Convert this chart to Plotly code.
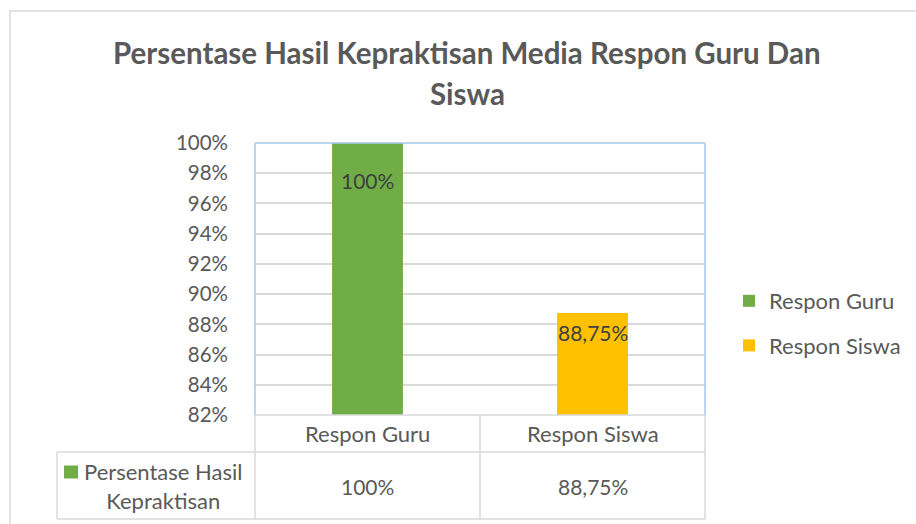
import plotly.graph_objects as go

# ---- data ----
categories = ["Respon Guru", "Respon Siswa"]
values = [1.00, 0.8875]
value_labels = ["100%", "88,75%"]
series_name = "Persentase Hasil<br>Kepraktisan"
colors = ["#70AD47", "#FFC000"]
title_lines = ["Persentase Hasil Kepraktisan Media Respon Guru Dan", "Siswa"]
y_range = [0.82, 1.00]
y_dtick = 0.02

# ---- layout geometry (pixels) ----
W, H = 916, 524
L, R, T, B = 255, 705, 143, 415
ROW1_B = 452
ROW2_B = 519
TABLE_L = 57
FONT = "Lato"
TXT = "#595959"
GRID = "#D9D9D9"
FRAME = "#A6C8EC"


def xp(px):
    return (px - L) / (R - L)


def yp(py):
    return (B - py) / (B - T)


fig = go.Figure()
for cat, val, col in zip(categories, values, colors):
    fig.add_trace(go.Bar(
        x=[cat], y=[val], name=cat, marker=dict(color=col, line=dict(width=0)),
        width=0.315, legendgroup=cat, hoverinfo="skip",
    ))

shapes = []
# outer chart border
shapes.append(dict(type="rect", xref="paper", yref="paper",
                   x0=xp(10), x1=xp(W + 10), y0=yp(11), y1=yp(H + 10),
                   line=dict(color=GRID, width=1.5), layer="below"))
# plot frame (left, top, right)
for (x0, y0, x1, y1) in [(L, B, L, T), (L, T, R, T), (R, T, R, B)]:
    shapes.append(dict(type="line", xref="paper", yref="paper",
                       x0=xp(x0), y0=yp(y0), x1=xp(x1), y1=yp(y1),
                       line=dict(color=FRAME, width=1.5)))
# data table lines
table_lines = [
    (L, B, L, ROW2_B),
    ((L + R) / 2, B, (L + R) / 2, ROW2_B),
    (R, B, R, ROW2_B),
    (TABLE_L, ROW1_B, R, ROW1_B),
    (TABLE_L, ROW2_B, R, ROW2_B),
    (TABLE_L, ROW1_B, TABLE_L, ROW2_B),
    (L, B, R, B),
]
for (x0, y0, x1, y1) in table_lines:
    shapes.append(dict(type="line", xref="paper", yref="paper",
                       x0=xp(x0), y0=yp(y0), x1=xp(x1), y1=yp(y1),
                       line=dict(color=GRID, width=1.5)))
# legend key in table
shapes.append(dict(type="rect", xref="paper", yref="paper",
                   x0=xp(64), x1=xp(78), y0=yp(465.5), y1=yp(478.5),
                   fillcolor=colors[0], line=dict(width=0)))

annotations = []
# title
for line, cy in zip(title_lines, [52, 93]):
    annotations.append(dict(x=xp(467), y=yp(cy), xref="paper", yref="paper",
                            text="<b>" + line + "</b>", showarrow=False,
                            xanchor="center", yanchor="middle",
                            font=dict(family=FONT, size=29.5, color=TXT)))
# data labels
label_offsets = [-37, -19]
for cat, val, lab, off in zip(categories, values, value_labels, label_offsets):
    annotations.append(dict(x=cat, y=val, xref="x", yref="y", text=lab,
                            showarrow=False, yshift=off, yanchor="middle",
                            font=dict(family=FONT, size=21, color="#404040")))
# table header labels
for cat in categories:
    annotations.append(dict(x=cat, y=yp(433), xref="x", yref="paper",
                            text=cat, showarrow=False, yanchor="middle",
                            font=dict(family=FONT, size=22, color=TXT)))
# table values
for cat, lab in zip(categories, value_labels):
    annotations.append(dict(x=cat, y=yp(486), xref="x", yref="paper",
                            text=lab, showarrow=False, yanchor="middle",
                            font=dict(family=FONT, size=21, color=TXT)))
# series name in table
annotations.append(dict(x=xp(163), y=yp(486), xref="paper", yref="paper",
                        text=series_name, showarrow=False, xanchor="center",
                        yanchor="middle", align="center",
                        font=dict(family=FONT, size=22, color=TXT)))

fig.update_layout(
    width=W, height=H,
    margin=dict(l=L, r=W - R, t=T, b=H - B, pad=0, autoexpand=False),
    paper_bgcolor="white", plot_bgcolor="white",
    barmode="overlay",
    xaxis=dict(type="category", showticklabels=False, showgrid=False, zeroline=False,
               showline=False, fixedrange=True),
    yaxis=dict(range=y_range, dtick=y_dtick, tickformat=".0%", showgrid=True,
               gridcolor=GRID, gridwidth=1.5, zeroline=False, showline=False,
               ticks="", ticklabelstandoff=26, automargin=False,
               tickfont=dict(family=FONT, size=20.5, color=TXT)),
    legend=dict(x=xp(729), y=yp(280), xanchor="left", yanchor="top",
                font=dict(family=FONT, size=22, color=TXT), tracegroupgap=13,
                bgcolor="rgba(0,0,0,0)"),
    shapes=shapes,
    annotations=annotations,
    separators=",.",
)

fig.write_html("out.html",
               config={"displayModeBar": False},
               post_script="document.body.style.margin='0';document.body.style.overflow='hidden';")
